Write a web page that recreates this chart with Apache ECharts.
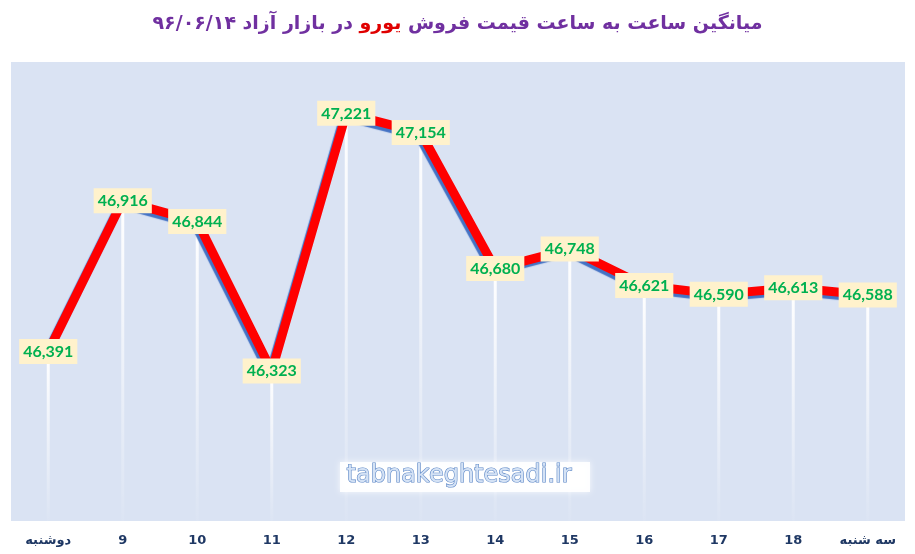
<!DOCTYPE html>
<html>
<head>
<meta charset="utf-8">
<script src="https://cdn.jsdelivr.net/npm/echarts@6/dist/echarts.min.js"></script>
<style>
  html, body { margin: 0; padding: 0; background: #fff; }
  #chart { width: 915px; height: 554px; }
</style>
</head>
<body>
<div id="chart"></div>
<script>
var hours = ['دوشنبه', '9', '10', '11', '12', '13', '14', '15', '16', '17', '18', 'سه شنبه'];
var prices = [46391, 46916, 46844, 46323, 47221, 47154, 46680, 46748, 46621, 46590, 46613, 46588];
var axisMin = 45800;
var axisMax = 47400;

var myChart = echarts.init(document.getElementById('chart'));
var option = {
	animation: false,
	backgroundColor: '#ffffff',
	title: {
		left: 'center',
		top: 10,
		text: '{a|در بازار آزاد ۹۶/۰۶/۱۴ }{b|یورو }{a|میانگین ساعت به ساعت قیمت فروش}',
		textStyle: {
			rich: {
				a: { color: '#7030a0', fontSize: 19, fontWeight: 'bold', fontFamily: 'DejaVu Sans' },
				b: { color: '#e00000', fontSize: 19, fontWeight: 'bold', fontFamily: 'DejaVu Sans' }
			}
		}
	},
	grid: {
		left: 11, right: 10, top: 62, bottom: 33,
		show: true,
		backgroundColor: '#dae3f3',
		borderWidth: 0
	},
	xAxis: {
		type: 'category',
		data: hours,
		boundaryGap: true,
		axisLine: { show: false },
		axisTick: { show: false },
		axisLabel: {
			margin: 13,
			color: '#1f3864',
			fontWeight: 'bold',
			fontSize: 13,
			fontFamily: 'DejaVu Sans'
		}
	},
	yAxis: {
		type: 'value',
		min: axisMin,
		max: axisMax,
		show: false,
		splitLine: { show: false }
	},
	graphic: [{
		type: 'rect',
		shape: { x: 340, y: 462, width: 250, height: 30 },
		style: { fill: 'rgba(255,255,255,0.9)', shadowBlur: 6, shadowColor: 'rgba(255,255,255,0.9)' },
		z: 50
	}, {
		type: 'text',
		left: 346,
		top: 463,
		style: {
			text: 'tabnakeghtesadi.ir',
			fontSize: 24,
			fontFamily: 'DejaVu Sans',
			fill: '#d4e2f5',
			stroke: '#5b86c6',
			lineWidth: 1.2
		},
		z: 51
	}],
	series: [{
		// white fading drop lines
		type: 'bar',
		data: prices,
		barWidth: 3,
		z: 1,
		silent: true,
		itemStyle: {
			color: new echarts.graphic.LinearGradient(0, 0, 0, 1, [
				{ offset: 0, color: 'rgba(255,255,255,1)' },
				{ offset: 1, color: 'rgba(255,255,255,0.05)' }
			])
		}
	}, {
		name: 'euro',
		type: 'line',
		data: prices,
		z: 3,
		symbol: 'circle',
		symbolSize: 1,
		itemStyle: { color: 'rgba(0,0,0,0)' },
		lineStyle: {
			color: '#ff0000',
			width: 9,
			shadowColor: '#4472c4',
			shadowOffsetX: -2,
			shadowOffsetY: 3,
			shadowBlur: 1
		},
		label: {
			show: true,
			position: 'inside',
			formatter: function (p) {
				return p.value.toLocaleString('en-US');
			},
			color: '#00b050',
			fontSize: 16,
			fontWeight: 'bold',
			fontFamily: 'Lato',
			backgroundColor: '#fff2cc',
			padding: [5, 4, 4, 4]
		}
	}]
};
myChart.setOption(option);
</script>
</body>
</html>
